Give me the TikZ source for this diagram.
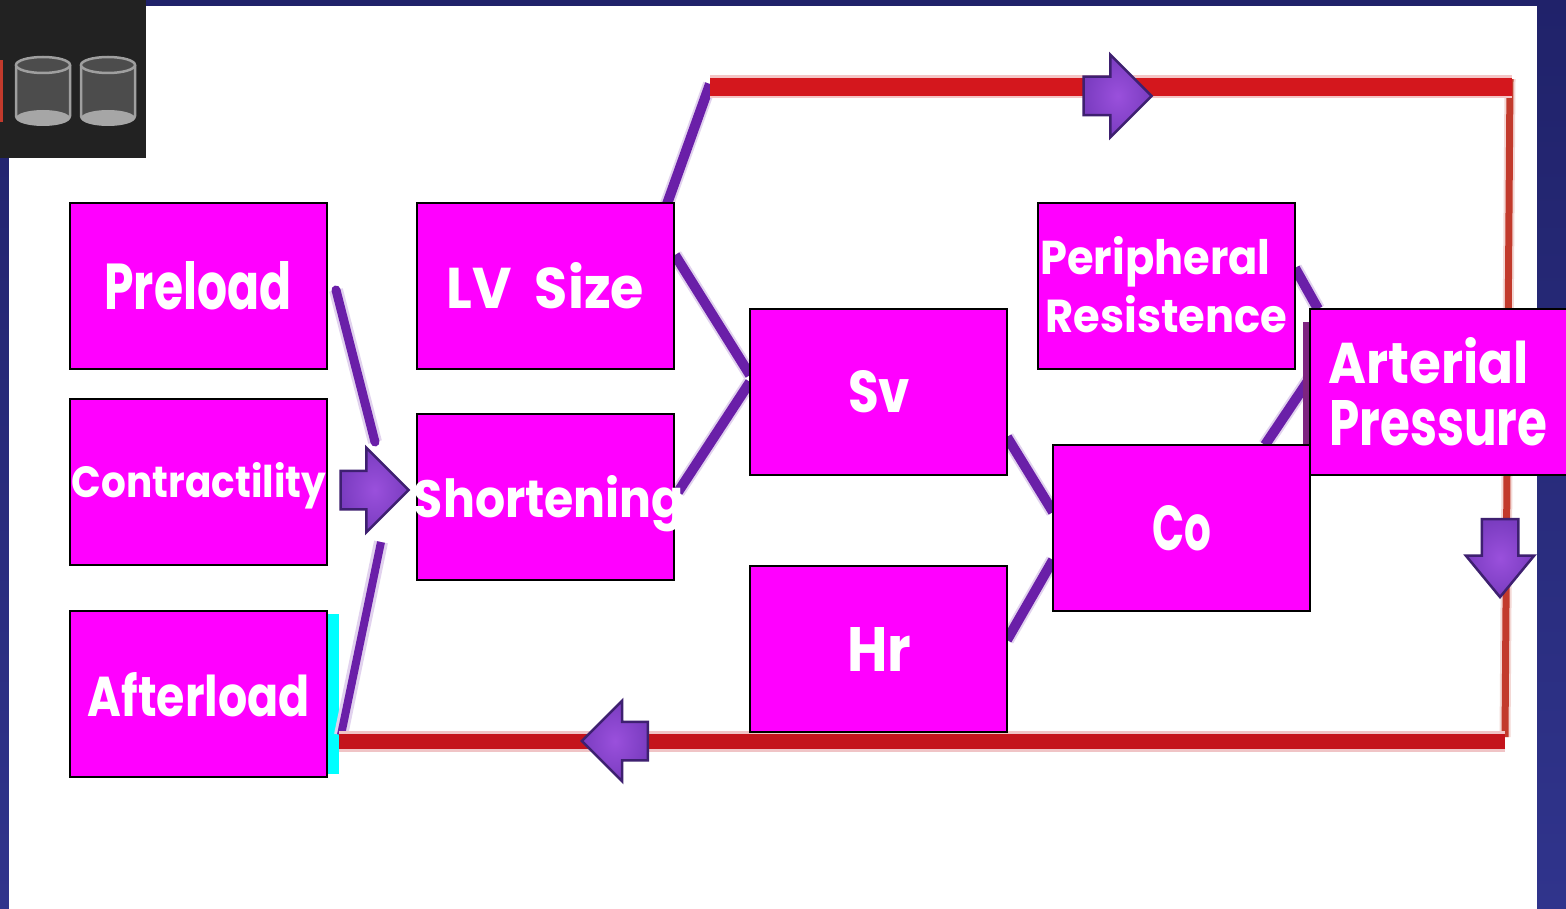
\documentclass[tikz,border=0pt]{standalone}
\usepackage{fontspec}
\usepackage{graphicx}
\setmainfont{Poppins}
\usetikzlibrary{shapes.arrows}
\definecolor{navy}{HTML}{20226A}
\definecolor{navyb}{HTML}{30348C}
\definecolor{mag}{HTML}{FF00FF}
\definecolor{redline}{HTML}{D4171D}
\definecolor{redlow}{HTML}{C4141C}
\definecolor{redthin}{HTML}{C23A2C}
\definecolor{purpleline}{HTML}{6A1FA8}
\definecolor{purplefill}{HTML}{7A3CC0}
\definecolor{purplein}{HTML}{9A50DC}
\definecolor{purpleedge}{HTML}{3E2070}
\definecolor{cyanbar}{HTML}{00FFFF}
\definecolor{darkpanel}{HTML}{222222}
\definecolor{maroon}{HTML}{7E2480}
% width, height above baseline, doubled x offset, baseline offset, text
\newcommand{\fittext}[5]{\makebox[0pt]{\kern #3pt\raisebox{#4pt}[0pt][0pt]{\resizebox{#1pt}{#2pt}{\textbf{#5}}}}}
\pgfdeclarelayer{backdrop}
\pgfdeclarelayer{lines}
\pgfsetlayers{backdrop,lines,main}
\tikzset{
  x=1pt,y=-1pt,
  boxnode/.style={draw=black,line width=1.6pt,fill=mag,text=white,minimum width=257pt,minimum height=166pt,inner sep=0pt,outer sep=0pt,anchor=north west},
  conn/.style={draw=purpleline,line width=10pt,preaction={draw=purpleline!20,line width=14pt}},
  redfat/.style={draw=redline,line width=18pt,preaction={draw=redline!25,line width=23pt}},
  redmid/.style={draw=redlow,line width=15pt,preaction={draw=redlow!25,line width=21pt}},
  redslim/.style={draw=redthin,line width=7pt,preaction={draw=redthin!20,line width=11pt}},
  blockarrow/.style={shape=single arrow,draw=purpleedge,inner color=purplein,outer color=purplefill,line width=2.5pt,inner sep=0pt,outer sep=0pt,minimum height=68pt,minimum width=82pt,single arrow head extend=23pt,single arrow head indent=0pt},
  can/.style={draw=gray!75,fill=black!70,line width=2.5pt},
  canbase/.style={fill=black!35},
}
\begin{document}
\begin{tikzpicture}
\useasboundingbox (0,0) rectangle (1566,909);
\begin{pgfonlayer}{backdrop}
\shade[top color=navy,bottom color=navyb] (0,0) rectangle (1566,909);
\fill[white] (9,6) rectangle (1537,909);
\fill[darkpanel] (0,0) rectangle (146,158);
\fill[cyanbar] (327,614) rectangle (339,774);
\fill[redthin] (0,60) rectangle (3,122);
\end{pgfonlayer}

% boxes
\node[boxnode] (preload) at (70,203) {\fittext{187}{48}{-1}{-24}{Preload}};
\node[boxnode] (contract) at (70,399) {\fittext{254}{35}{1}{-15}{Contractility}};
\node[boxnode] (afterload) at (70,611) {\fittext{222}{44}{1}{-22}{Afterload}};
\node[boxnode] (lvsize) at (417,203) {\fittext{197}{46}{0}{-23}{LV\ \ Size}};
\node[boxnode] (shorten) at (417,414) {\fittext{270}{42}{7}{-20}{Shortening}};
\node[boxnode] (sv) at (750,309) {\fittext{62}{42}{1}{-20}{Sv}};
\node[boxnode] (hr) at (750,566) {\fittext{64}{44}{1}{-22}{Hr}};
\node[boxnode] (periph) at (1038,203) {\fittext{230}{38}{-22}{11}{Peripheral}\fittext{242}{37}{0}{-47}{Resistence}};
\node[boxnode] (co) at (1053,445) {\fittext{59}{45}{0}{-22}{Co}};
\node[boxnode] (arterial) at (1310,309) {\fittext{200}{46}{-20}{9}{Arterial}\fittext{218}{45}{0}{-54}{Pressure}};

% free ends and corners
\coordinate (topcorner) at (710,84);
\coordinate (rightcorner) at (1510,87);
\coordinate (lowcorner) at (1505,741);
\coordinate (lvstart) at (667,204);
\coordinate (lvout) at (675,255);
\coordinate (svupper) at (750,375);
\coordinate (svlower) at (750,382);
\coordinate (shortout) at (678,492);
\coordinate (svout) at (1007,437);
\coordinate (coupper) at (1053,512);
\coordinate (hrout) at (1007,640);
\coordinate (colower) at (1053,560);
\coordinate (periout) at (1295,268);
\coordinate (artin) at (1318,309);
\coordinate (coout) at (1265,445);
\coordinate (artinlow) at (1310,378);
\coordinate (stripetop) at (1306,322);
\coordinate (stripebot) at (1306,445);
\coordinate (prestart) at (336,290);
\coordinate (preend) at (375,442);
\coordinate (aftstart) at (341,735);
\coordinate (aftend) at (381,542);

\begin{pgfonlayer}{lines}
\draw[conn] (lvstart) -- (topcorner);
\draw[conn] (lvout) -- (svupper);
\draw[conn] (shortout) -- (svlower);
\draw[conn] (svout) -- (coupper);
\draw[conn] (hrout) -- (colower);
\draw[conn] (periout) -- (artin);
\draw[conn] (coout) -- (artinlow);
\draw[draw=maroon,line width=6pt] (stripetop) -- (stripebot);
\draw[conn,line width=9pt,line cap=round] (prestart) -- (preend);
\draw[conn,line width=8pt] (aftstart) -- (aftend);
\draw[redslim] ([yshift=8pt]rightcorner) -- ([yshift=4pt]lowcorner);
\draw[redfat] (topcorner |- rightcorner) -- ([xshift=2pt]rightcorner);
\draw[redmid] (lowcorner) -- (339,741);
\end{pgfonlayer}

% block arrows
\node[blockarrow,minimum width=84pt] (arrmid) at (365,490) {\rule{0pt}{36pt}};
\node[blockarrow,minimum width=80pt,single arrow head extend=22pt] (arrtop) at (1108,96) {\rule{0pt}{36pt}};
\node[blockarrow,rotate=180,minimum width=78pt,single arrow head extend=21pt,minimum height=66pt] (arrlow) at (624.5,741) {\rule{0pt}{36pt}};
\node[blockarrow,rotate=270,minimum width=66pt,single arrow head extend=16pt,minimum height=78pt,single arrow tip angle=79] (arrdown) at (1500,547) {\rule{0pt}{34pt}};

% cylinders in the dark panel
\foreach \cx in {43,108}{
  \draw[can] (\cx-27,65) -- (\cx-27,116) arc[start angle=180,end angle=360,x radius=27pt,y radius=8pt] -- (\cx+27,65);
  \fill[canbase] (\cx,118) ellipse[x radius=27pt,y radius=8pt];
  \draw[can] (\cx,65) ellipse[x radius=27pt,y radius=8pt];
}
\end{tikzpicture}
\end{document}
